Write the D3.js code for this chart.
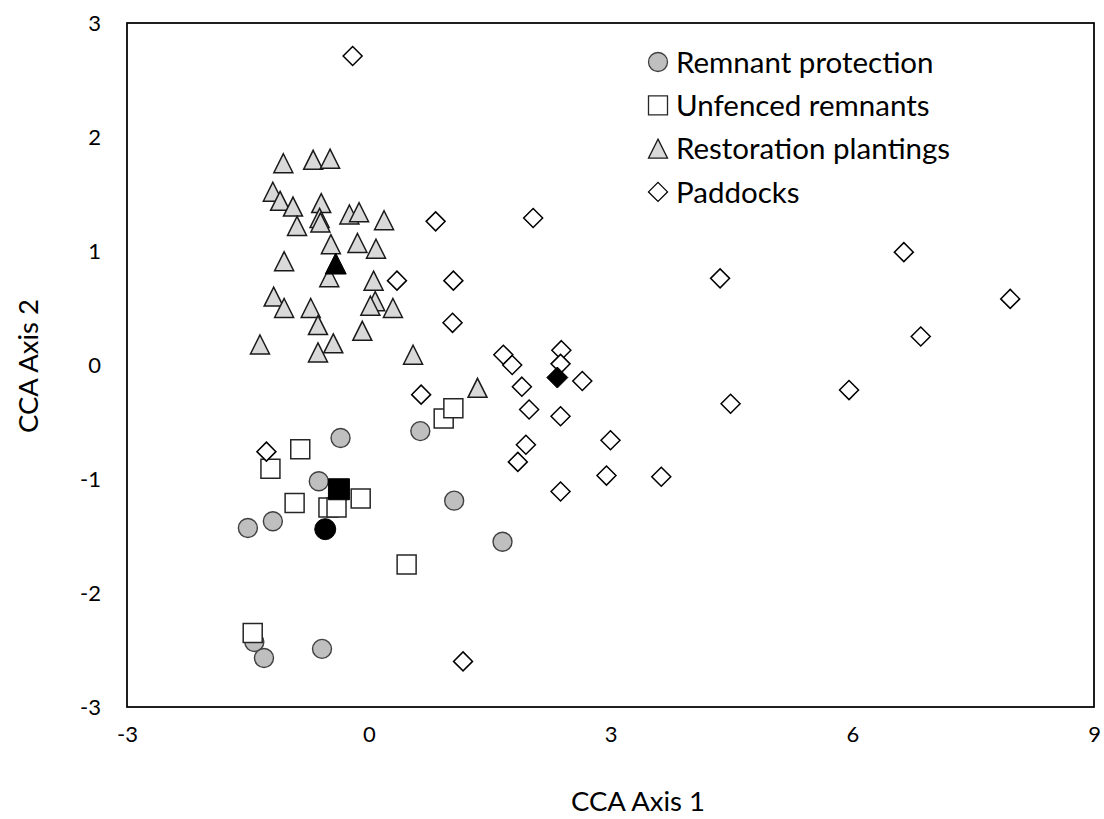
<!DOCTYPE html>
<html>
<head>
<meta charset="utf-8">
<script src="https://cdn.jsdelivr.net/npm/d3@7"></script>
<style>
  html, body { margin: 0; padding: 0; background: #fff; }
  svg text { font-family: Lato, "Open Sans", sans-serif; fill: #000; }
</style>
</head>
<body>
<svg id="chart" width="1104" height="819"></svg>
<script>
// CCA site scores, one [axis1, axis2] pair per site
const remnantProtection = [
  [-0.35, -0.64], [0.64, -0.58], [-0.62, -1.02], [-1.50, -1.43], [-1.19, -1.37],
  [1.06, -1.19], [1.66, -1.55], [-1.42, -2.43], [-1.30, -2.57], [-0.58, -2.49]
];
const unfencedRemnants = [
  [-0.85, -0.74], [-1.22, -0.91], [-0.92, -1.21], [-0.50, -1.25], [-0.40, -1.25],
  [-0.10, -1.17], [0.47, -1.75], [-1.44, -2.35], [0.93, -0.47], [1.05, -0.38]
];
const restorationPlantings = [
  [-1.06, 1.77], [-0.69, 1.80], [-0.48, 1.81], [-1.19, 1.52], [-1.10, 1.44],
  [-0.94, 1.39], [-0.89, 1.22], [-0.59, 1.42], [-0.61, 1.29], [-0.60, 1.25],
  [-0.24, 1.32], [-0.12, 1.34], [0.19, 1.27], [-0.47, 1.06], [-0.14, 1.07],
  [0.09, 1.02], [-1.05, 0.91], [-0.49, 0.77], [0.06, 0.74], [-1.18, 0.60],
  [-1.05, 0.50], [-0.72, 0.50], [-0.63, 0.35], [0.08, 0.56], [0.02, 0.52],
  [0.30, 0.50], [-0.08, 0.30], [-1.35, 0.18], [-0.44, 0.19], [-0.63, 0.11],
  [0.55, 0.09], [1.35, -0.20]
];
const paddocks = [
  [-0.20, 2.71], [0.83, 1.26], [2.04, 1.29], [0.35, 0.74], [1.05, 0.74],
  [1.04, 0.37], [4.36, 0.76], [1.67, 0.09], [1.78, 0.00], [2.39, 0.13],
  [2.38, 0.01], [2.65, -0.14], [1.90, -0.19], [0.65, -0.26], [1.99, -0.39],
  [2.38, -0.45], [1.95, -0.70], [1.85, -0.85], [3.00, -0.66], [2.95, -0.97],
  [3.63, -0.98], [-1.27, -0.76], [1.17, -2.60], [6.64, 0.99], [7.96, 0.58],
  [6.85, 0.25], [4.49, -0.34], [5.96, -0.22], [2.38, -1.11]
];
// Group centroids (filled black markers)
const centroids = [
  { group: "Remnant protection", x: -0.54, y: -1.44 },
  { group: "Unfenced remnants", x: -0.37, y: -1.09 },
  { group: "Restoration plantings", x: -0.41, y: 0.89 },
  { group: "Paddocks", x: 2.34, y: -0.11 }
];
const legendLabels = ["Remnant protection", "Unfenced remnants", "Restoration plantings", "Paddocks"];
const xTicks = [-3, 0, 3, 6, 9];
const yTicks = [-3, -2, -1, 0, 1, 2, 3];
const xTitle = "CCA Axis 1";
const yTitle = "CCA Axis 2";

const svg = d3.select("#chart");
const plot = { left: 127, right: 1094, top: 23, bottom: 707 };

const x = d3.scaleLinear().domain([-3, 9]).range([plot.left, plot.right]);
const y = d3.scaleLinear().domain([-3, 3]).range([plot.bottom, plot.top]);

// Marker path builders, all centred on the origin, s = overall size in px
const shapes = {
  circle: s => { const r = s / 2; return `M${r},0A${r},${r} 0 1,1 ${-r},0A${r},${r} 0 1,1 ${r},0Z`; },
  square: s => { const h = s / 2; return `M${-h},${-h}H${h}V${h}H${-h}Z`; },
  triangle: s => { const h = s / 2; return `M0,${-h}L${h},${h}L${-h},${h}Z`; },
  diamond: s => { const h = s / 2; return `M0,${-h}L${h},0L0,${h}L${-h},0Z`; }
};

const styles = {
  "Remnant protection":    { shape: "circle",   fill: "#bfbfbf", stroke: "#404040", sw: 1.4 },
  "Unfenced remnants":     { shape: "square",   fill: "#ffffff", stroke: "#262626", sw: 1.5 },
  "Restoration plantings": { shape: "triangle", fill: "#d9d9d9", stroke: "#1a1a1a", sw: 1.5 },
  "Paddocks":              { shape: "diamond",  fill: "#ffffff", stroke: "#000000", sw: 1.5 }
};

const seriesData = [
  ["Remnant protection", remnantProtection],
  ["Unfenced remnants", unfencedRemnants],
  ["Restoration plantings", restorationPlantings],
  ["Paddocks", paddocks]
];

// Plain integer labels with an ASCII hyphen for negatives
const fmt = d => String(d);

// Axis tick labels (no tick marks, no gridlines)
const xAxis = d3.axisBottom(x).tickValues(xTicks).tickFormat(fmt).tickSize(0).tickPadding(0);
const gx = svg.append("g").attr("transform", `translate(0,${plot.bottom})`).call(xAxis);
gx.select(".domain").remove();
gx.selectAll("text").attr("font-size", 22).attr("dy", null).attr("y", 35)
  .style("font-family", "Lato, sans-serif");

const yAxis = d3.axisLeft(y).tickValues(yTicks).tickFormat(fmt).tickSize(0).tickPadding(0);
const gy = svg.append("g").attr("transform", `translate(${plot.left},0)`).call(yAxis);
gy.select(".domain").remove();
gy.selectAll("text").attr("font-size", 22).attr("x", -26).attr("dy", "0.35em")
  .style("font-family", "Lato, sans-serif");

// Plot frame
svg.append("rect")
  .attr("x", plot.left).attr("y", plot.top)
  .attr("width", plot.right - plot.left).attr("height", plot.bottom - plot.top)
  .attr("fill", "none").attr("stroke", "#000").attr("stroke-width", 1.75);

// Site markers
const markerSize = 19;
seriesData.forEach(([name, pts]) => {
  const st = styles[name];
  svg.append("g").selectAll("path").data(pts).join("path")
    .attr("d", shapes[st.shape](markerSize))
    .attr("transform", d => `translate(${x(d[0])},${y(d[1])})`)
    .attr("fill", st.fill).attr("stroke", st.stroke).attr("stroke-width", st.sw);
});

// Centroids on top
svg.append("g").selectAll("path").data(centroids).join("path")
  .attr("d", d => shapes[styles[d.group].shape](21))
  .attr("transform", d => `translate(${x(d.x)},${y(d.y)})`)
  .attr("fill", "#000").attr("stroke", "#000").attr("stroke-width", 1);

// Legend
const legend = svg.append("g").attr("transform", "translate(658,62)");
legendLabels.forEach((lab, i) => {
  const st = styles[lab];
  const row = legend.append("g").attr("transform", `translate(0,${i * 43.3})`);
  row.append("path").attr("d", shapes[st.shape](19))
    .attr("fill", st.fill).attr("stroke", st.stroke).attr("stroke-width", 1.3);
  row.append("text").attr("x", 18).attr("y", 0).attr("dy", "0.36em")
    .attr("font-size", 29.5).text(lab);
});

// Axis titles
svg.append("text").attr("x", 638).attr("y", 811).attr("text-anchor", "middle")
  .attr("font-size", 27.5).text(xTitle);
svg.append("text").attr("transform", "translate(38,366) rotate(-90)")
  .attr("text-anchor", "middle").attr("font-size", 27.5).text(yTitle);
</script>
</body>
</html>
